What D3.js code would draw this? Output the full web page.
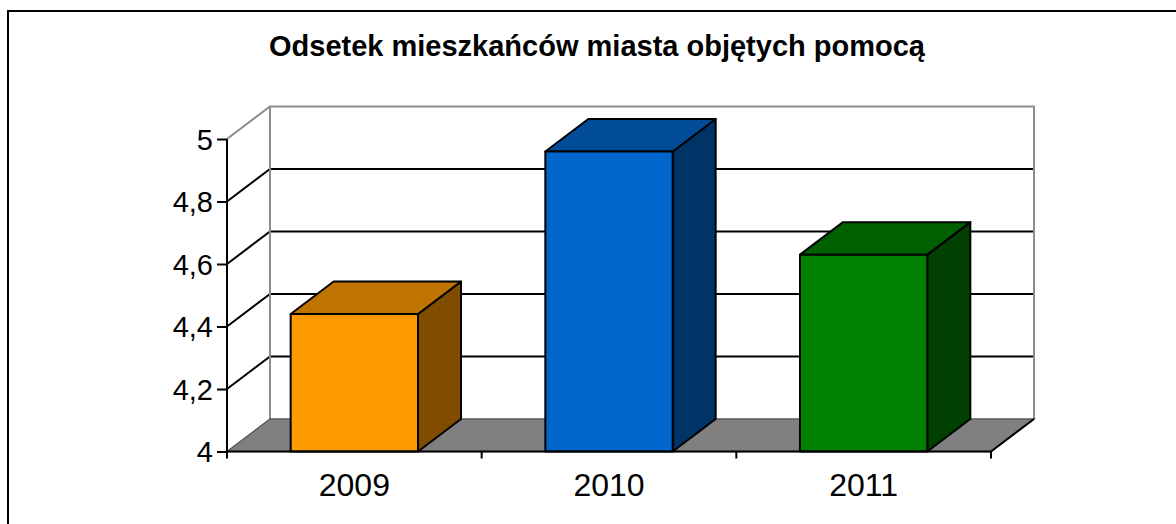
<!DOCTYPE html>
<html>
<head>
<meta charset="utf-8">
<script src="https://cdn.jsdelivr.net/npm/d3@7"></script>
<style>
  body { margin: 0; background: #fff; }
  text { font-family: 'Liberation Sans', Arial, sans-serif; }
</style>
</head>
<body>
<div id="chart"></div>
<script>
// -- DATA --
var years = ['2009', '2010', '2011']
var values = [4.44, 4.96, 4.63]
var yTicks = [4, 4.2, 4.4, 4.6, 4.8, 5]
var frontColors = ['#FF9900', '#0066CC', '#008000']
var topColors = ['#BF7300', '#004C99', '#006000']
var sideColors = ['#7F4C00', '#003366', '#004000']
var title = 'Odsetek mieszkańców miasta objętych pomocą'

// -- LAYOUT --
var width = 1176, height = 524
var plot = {left: 227, right: 991, top: 139, bottom: 451.5}
var depth = {dx: 43, dy: -32.5}

var svg = d3.select('#chart').append('svg')
  .attr('width', width)
  .attr('height', height)

var xMap = d3.scaleBand()
  .domain(years)
  .range([plot.left, plot.right])
  .paddingInner(0.5)
  .paddingOuter(0.25)

var yMap = d3.scaleLinear()
  .domain([4, 5])
  .range([plot.bottom, plot.top])

var step = xMap.step()
var fmt = d => String(d).replace('.', ',')

// outer frame
svg.append('rect')
  .attr('x', 8).attr('y', 11)
  .attr('width', 1300).attr('height', 700)
  .style('fill', 'none')
  .style('stroke', 'black')
  .style('stroke-width', '2px')

// title
svg.append('text')
  .attr('x', 597)
  .attr('y', 56)
  .style('font-weight', 'bold')
  .style('font-size', '29px')
  .style('text-anchor', 'middle')
  .text(title)

// -- WALLS --
var bx0 = plot.left + depth.dx, bx1 = plot.right + depth.dx
var yb = v => yMap(v) + depth.dy

svg.append('rect')
  .attr('x', bx0).attr('y', yb(5))
  .attr('width', bx1 - bx0).attr('height', yb(4) - yb(5))
  .style('fill', 'white')

// gridlines on side + back wall
svg.selectAll('.grid')
  .data(yTicks.filter(d => d > 4 && d < 5))
  .enter().append('path')
  .attr('class', 'grid')
  .attr('d', d => 'M' + plot.left + ',' + yMap(d) + 'L' + bx0 + ',' + yb(d) + 'L' + bx1 + ',' + yb(d))
  .style('fill', 'none')
  .style('stroke', 'black')
  .style('stroke-width', '2px')

// wall border (gray)
svg.append('path')
  .attr('d', 'M' + plot.left + ',' + yMap(5) + 'L' + bx0 + ',' + yb(5) + 'L' + bx1 + ',' + yb(5) + 'L' + bx1 + ',' + yb(4))
  .style('fill', 'none')
  .style('stroke', '#8c8c8c')
  .style('stroke-width', '2px')
svg.append('line')
  .attr('x1', bx0).attr('y1', yb(5))
  .attr('x2', bx0).attr('y2', yb(4))
  .style('stroke', '#8c8c8c')
  .style('stroke-width', '2px')

// floor
svg.append('path')
  .attr('d', 'M' + plot.left + ',' + yMap(4) + 'L' + bx0 + ',' + yb(4) + 'L' + bx1 + ',' + yb(4) + 'L' + plot.right + ',' + yMap(4) + 'Z')
  .style('fill', '#808080')
  .style('stroke', '#5a5a5a')
  .style('stroke-width', '1.5px')
svg.append('line')
  .attr('x1', plot.right).attr('y1', yMap(4))
  .attr('x2', bx1).attr('y2', yb(4))
  .style('stroke', 'black')
  .style('stroke-width', '2px')

// -- BARS --
var bars = svg.selectAll('.bar')
  .data(years.map((y, i) => ({year: y, value: values[i], i: i})))
  .enter().append('g')
  .attr('class', 'bar')
  .style('stroke', 'black')
  .style('stroke-width', '2px')
  .style('stroke-linejoin', 'round')

function pts(arr) { return arr.map(p => p.join(',')).join(' ') }

bars.append('polygon')
  .attr('points', d => {
    var x1 = xMap(d.year) + xMap.bandwidth(), yt = yMap(d.value), y0 = yMap(4)
    return pts([[x1, y0], [x1, yt], [x1 + depth.dx, yt + depth.dy], [x1 + depth.dx, y0 + depth.dy]])
  })
  .style('fill', d => sideColors[d.i])

bars.append('polygon')
  .attr('points', d => {
    var x0 = xMap(d.year), x1 = x0 + xMap.bandwidth(), yt = yMap(d.value)
    return pts([[x0, yt], [x0 + depth.dx, yt + depth.dy], [x1 + depth.dx, yt + depth.dy], [x1, yt]])
  })
  .style('fill', d => topColors[d.i])

bars.append('rect')
  .attr('x', d => xMap(d.year))
  .attr('y', d => yMap(d.value))
  .attr('width', xMap.bandwidth())
  .attr('height', d => yMap(4) - yMap(d.value))
  .style('fill', d => frontColors[d.i])

// -- AXES --
var yAxis = d3.axisLeft(yMap)
  .tickValues(yTicks)
  .tickSize(10)
  .tickPadding(4)
  .tickFormat(fmt)

var gY = svg.append('g')
  .attr('transform', 'translate(' + plot.left + ',0)')
  .call(yAxis)
gY.select('.domain').remove()
gY.selectAll('line').style('stroke', 'black').style('stroke-width', '2px')
gY.selectAll('text')
  .style('font-size', '29px')
  .style('font-family', "'Liberation Sans', Arial, sans-serif")
  .attr('dy', '0.35em')

svg.append('line')
  .attr('x1', plot.left).attr('y1', yMap(5))
  .attr('x2', plot.left).attr('y2', yMap(4) + 1)
  .style('stroke', 'black')
  .style('stroke-width', '2px')

svg.append('line')
  .attr('x1', plot.left).attr('y1', yMap(4))
  .attr('x2', plot.right).attr('y2', yMap(4))
  .style('stroke', 'black')
  .style('stroke-width', '2px')

// category ticks between bands
svg.selectAll('.ctick')
  .data(d3.range(years.length + 1))
  .enter().append('line')
  .attr('x1', i => plot.left + i * step)
  .attr('x2', i => plot.left + i * step)
  .attr('y1', yMap(4))
  .attr('y2', yMap(4) + 7)
  .style('stroke', 'black')
  .style('stroke-width', '2px')

svg.selectAll('.clabel')
  .data(years)
  .enter().append('text')
  .attr('x', d => xMap(d) + xMap.bandwidth() / 2)
  .attr('y', 496)
  .style('font-size', '32px')
  .style('text-anchor', 'middle')
  .text(d => d)
</script>
</body>
</html>
